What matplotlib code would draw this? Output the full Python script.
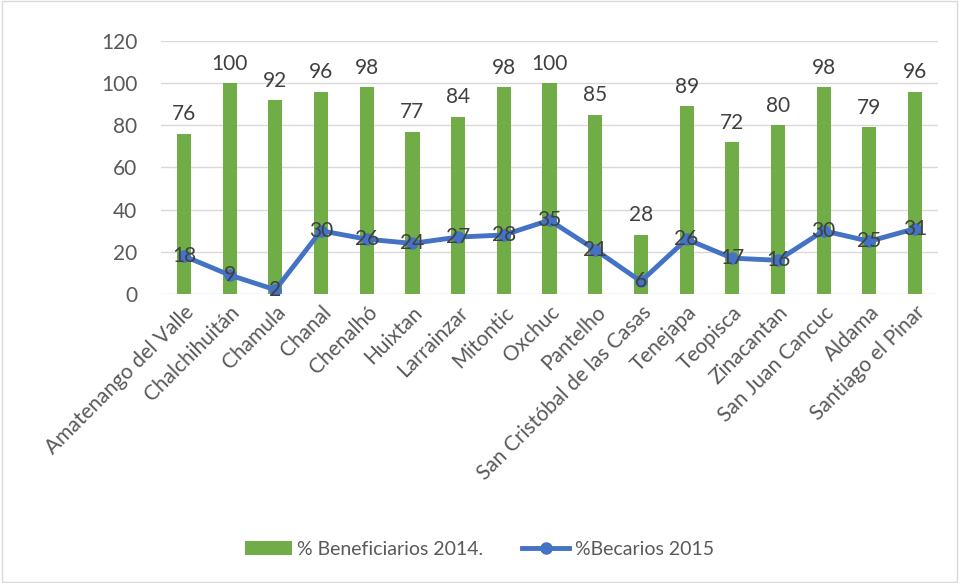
import matplotlib.pyplot as plt
import numpy as np

plt.rcParams['font.family'] = ['Lato', 'DejaVu Sans']

municipios = ["Amatenango del Valle", "Chalchihuitán", "Chamula", "Chanal", "Chenalhó",
              "Huixtan", "Larrainzar", "Mitontic", "Oxchuc", "Pantelho",
              "San Cristóbal de las Casas", "Tenejapa", "Teopisca", "Zinacantan",
              "San Juan Cancuc", "Aldama", "Santiago el Pinar"]
beneficiarios_2014 = [76, 100, 92, 96, 98, 77, 84, 98, 100, 85, 28, 89, 72, 80, 98, 79, 96]
becarios_2015 = [18, 9, 2, 30, 26, 24, 27, 28, 35, 21, 6, 26, 17, 16, 30, 25, 31]

green = "#70AD47"
blue = "#4472C4"
txt = "#404040"

fig = plt.figure(figsize=(9.59, 5.83), dpi=100)
ax = fig.add_axes([0.168, 0.4957, 0.81, 0.434])
x = np.arange(len(municipios))

bars = ax.bar(x, beneficiarios_2014, width=0.31, color=green, label="% Beneficiarios 2014.", zorder=2)
line, = ax.plot(x, becarios_2015, color=blue, lw=3.5, marker="o", ms=8, label="%Becarios 2015", zorder=3)

for xi, v in zip(x, beneficiarios_2014):
    ax.text(xi, v + 4.5, str(v), ha="center", va="bottom", fontsize=15, color=txt)
for xi, v in zip(x, becarios_2015):
    ax.text(xi, v, str(v), ha="center", va="center", fontsize=15, color=txt, zorder=4)

ax.set_xlim(-0.5, len(municipios) - 0.5)
ax.set_ylim(0, 120)
ax.set_yticks(range(0, 121, 20))
ax.yaxis.grid(True, color="#D9D9D9", lw=1)
ax.set_axisbelow(True)
for s in ax.spines.values():
    s.set_visible(False)
ax.tick_params(length=0, labelsize=15, colors="#595959")
ax.tick_params(axis="y", pad=17)
ax.tick_params(axis="x", pad=6)
ax.set_xticks(x)
ax.set_xticklabels(municipios, rotation=45, ha="right", rotation_mode="anchor")

fig.legend([bars, line], ["% Beneficiarios 2014.", "%Becarios 2015"], loc="center",
           bbox_to_anchor=(0.5, 0.058), ncol=2, frameon=False,
           fontsize=14, labelcolor="#595959", handlelength=2.4, handletextpad=0.3,
           columnspacing=2.0)

fig.patches.append(plt.Rectangle((0.002, 0.002), 0.996, 0.996, transform=fig.transFigure,
                                 fill=False, edgecolor="#D9D9D9", lw=1))
fig.savefig("out.png", dpi=100)
